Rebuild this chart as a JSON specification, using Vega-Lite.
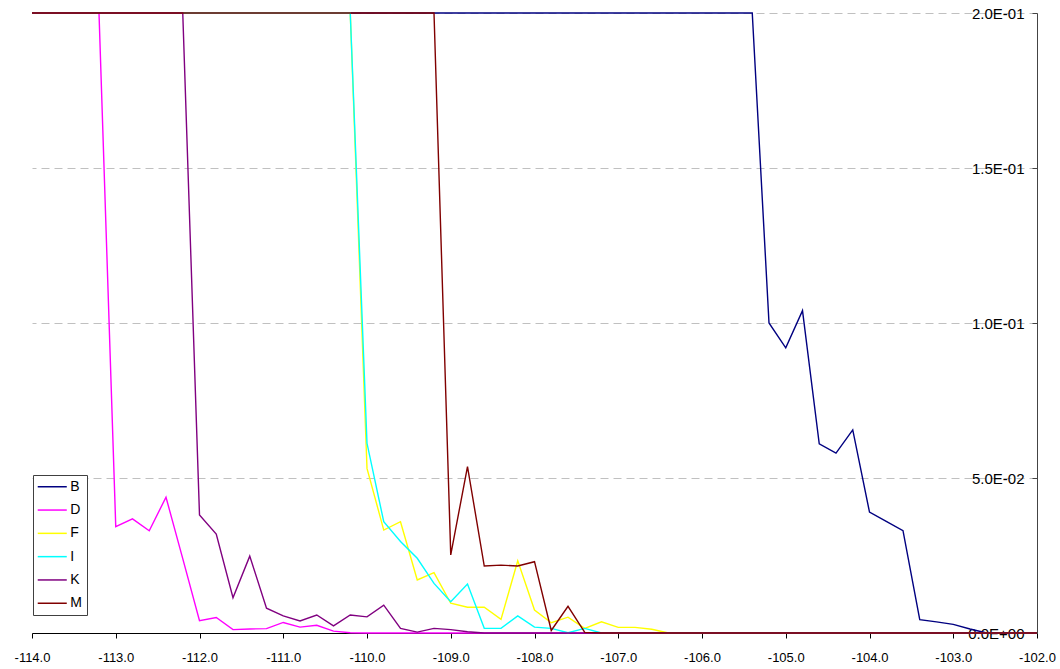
{
  "$schema": "https://vega.github.io/schema/vega-lite/v6.json",
  "width": 1005,
  "height": 620,
  "autosize": {"type": "none"},
  "padding": {"left": 32, "top": 13, "right": 23, "bottom": 36},
  "background": "white",
  "config": {"view": {"stroke": null}, "font": "Liberation Sans"},
  "data": {"values": [
    {"x": -114.0, "B": 0.2, "D": 0.2, "F": 0.2, "I": 0.2, "K": 0.2, "M": 0.2},
    {"x": -113.8, "B": 0.2, "D": 0.2, "F": 0.2, "I": 0.2, "K": 0.2, "M": 0.2},
    {"x": -113.6, "B": 0.2, "D": 0.2, "F": 0.2, "I": 0.2, "K": 0.2, "M": 0.2},
    {"x": -113.4, "B": 0.2, "D": 0.2, "F": 0.2, "I": 0.2, "K": 0.2, "M": 0.2},
    {"x": -113.2, "B": 0.2, "D": 0.2, "F": 0.2, "I": 0.2, "K": 0.2, "M": 0.2},
    {"x": -113.0, "B": 0.2, "D": 0.0343, "F": 0.2, "I": 0.2, "K": 0.2, "M": 0.2},
    {"x": -112.8, "B": 0.2, "D": 0.0368, "F": 0.2, "I": 0.2, "K": 0.2, "M": 0.2},
    {"x": -112.6, "B": 0.2, "D": 0.0330, "F": 0.2, "I": 0.2, "K": 0.2, "M": 0.2},
    {"x": -112.4, "B": 0.2, "D": 0.0438, "F": 0.2, "I": 0.2, "K": 0.2, "M": 0.2},
    {"x": -112.2, "B": 0.2, "D": 0.024, "F": 0.2, "I": 0.2, "K": 0.2, "M": 0.2},
    {"x": -112.0, "B": 0.2, "D": 0.0040, "F": 0.2, "I": 0.2, "K": 0.0381, "M": 0.2},
    {"x": -111.8, "B": 0.2, "D": 0.0050, "F": 0.2, "I": 0.2, "K": 0.0319, "M": 0.2},
    {"x": -111.6, "B": 0.2, "D": 0.0011, "F": 0.2, "I": 0.2, "K": 0.0114, "M": 0.2},
    {"x": -111.4, "B": 0.2, "D": 0.0013, "F": 0.2, "I": 0.2, "K": 0.0248, "M": 0.2},
    {"x": -111.2, "B": 0.2, "D": 0.0014, "F": 0.2, "I": 0.2, "K": 0.0080, "M": 0.2},
    {"x": -111.0, "B": 0.2, "D": 0.0034, "F": 0.2, "I": 0.2, "K": 0.0055, "M": 0.2},
    {"x": -110.8, "B": 0.2, "D": 0.0019, "F": 0.2, "I": 0.2, "K": 0.0039, "M": 0.2},
    {"x": -110.6, "B": 0.2, "D": 0.0025, "F": 0.2, "I": 0.2, "K": 0.0058, "M": 0.2},
    {"x": -110.4, "B": 0.2, "D": 0.0006, "F": 0.2, "I": 0.2, "K": 0.0023, "M": 0.2},
    {"x": -110.2, "B": 0.2, "D": 0.0001, "F": 0.2, "I": 0.2, "K": 0.0058, "M": 0.2},
    {"x": -110.0, "B": 0.2, "D": 0, "F": 0.0531, "I": 0.0612, "K": 0.0052, "M": 0.2},
    {"x": -109.8, "B": 0.2, "D": 0, "F": 0.0332, "I": 0.0359, "K": 0.0090, "M": 0.2},
    {"x": -109.6, "B": 0.2, "D": 0, "F": 0.0359, "I": 0.0295, "K": 0.0015, "M": 0.2},
    {"x": -109.4, "B": 0.2, "D": 0, "F": 0.0171, "I": 0.0241, "K": 0.0003, "M": 0.2},
    {"x": -109.2, "B": 0.2, "D": 0, "F": 0.0195, "I": 0.0160, "K": 0.0015, "M": 0.2},
    {"x": -109.0, "B": 0.2, "D": 0, "F": 0.0096, "I": 0.0101, "K": 0.0011, "M": 0.0252},
    {"x": -108.8, "B": 0.2, "D": 0, "F": 0.0083, "I": 0.0158, "K": 0.0004, "M": 0.0537},
    {"x": -108.6, "B": 0.2, "D": 0, "F": 0.0083, "I": 0.0015, "K": 0, "M": 0.0216},
    {"x": -108.4, "B": 0.2, "D": 0, "F": 0.0044, "I": 0.0015, "K": 0, "M": 0.0219},
    {"x": -108.2, "B": 0.2, "D": 0, "F": 0.0233, "I": 0.0055, "K": 0, "M": 0.0216},
    {"x": -108.0, "B": 0.2, "D": 0, "F": 0.0074, "I": 0.0019, "K": 0, "M": 0.0230},
    {"x": -107.8, "B": 0.2, "D": 0, "F": 0.0033, "I": 0.0015, "K": 0, "M": 0.0008},
    {"x": -107.6, "B": 0.2, "D": 0, "F": 0.0051, "I": 0.0001, "K": 0, "M": 0.0086},
    {"x": -107.4, "B": 0.2, "D": 0, "F": 0.0015, "I": 0.0015, "K": 0, "M": 0.0002},
    {"x": -107.2, "B": 0.2, "D": 0, "F": 0.0036, "I": 0, "K": 0, "M": 0},
    {"x": -107.0, "B": 0.2, "D": 0, "F": 0.0018, "I": 0, "K": 0, "M": 0},
    {"x": -106.8, "B": 0.2, "D": 0, "F": 0.0018, "I": 0, "K": 0, "M": 0},
    {"x": -106.6, "B": 0.2, "D": 0, "F": 0.0012, "I": 0, "K": 0, "M": 0},
    {"x": -106.4, "B": 0.2, "D": 0, "F": 0, "I": 0, "K": 0, "M": 0},
    {"x": -106.2, "B": 0.2, "D": 0, "F": 0, "I": 0, "K": 0, "M": 0},
    {"x": -106.0, "B": 0.2, "D": 0, "F": 0, "I": 0, "K": 0, "M": 0},
    {"x": -105.8, "B": 0.2, "D": 0, "F": 0, "I": 0, "K": 0, "M": 0},
    {"x": -105.6, "B": 0.2, "D": 0, "F": 0, "I": 0, "K": 0, "M": 0},
    {"x": -105.4, "B": 0.2, "D": 0, "F": 0, "I": 0, "K": 0, "M": 0},
    {"x": -105.2, "B": 0.100, "D": 0, "F": 0, "I": 0, "K": 0, "M": 0},
    {"x": -105.0, "B": 0.092, "D": 0, "F": 0, "I": 0, "K": 0, "M": 0},
    {"x": -104.8, "B": 0.104, "D": 0, "F": 0, "I": 0, "K": 0, "M": 0},
    {"x": -104.6, "B": 0.061, "D": 0, "F": 0, "I": 0, "K": 0, "M": 0},
    {"x": -104.4, "B": 0.058, "D": 0, "F": 0, "I": 0, "K": 0, "M": 0},
    {"x": -104.2, "B": 0.0655, "D": 0, "F": 0, "I": 0, "K": 0, "M": 0},
    {"x": -104.0, "B": 0.039, "D": 0, "F": 0, "I": 0, "K": 0, "M": 0},
    {"x": -103.8, "B": 0.036, "D": 0, "F": 0, "I": 0, "K": 0, "M": 0},
    {"x": -103.6, "B": 0.033, "D": 0, "F": 0, "I": 0, "K": 0, "M": 0},
    {"x": -103.4, "B": 0.0043, "D": 0, "F": 0, "I": 0, "K": 0, "M": 0},
    {"x": -103.2, "B": 0.0036, "D": 0, "F": 0, "I": 0, "K": 0, "M": 0},
    {"x": -103.0, "B": 0.0028, "D": 0, "F": 0, "I": 0, "K": 0, "M": 0},
    {"x": -102.8, "B": 0.0013, "D": 0, "F": 0, "I": 0, "K": 0, "M": 0},
    {"x": -102.6, "B": 0, "D": 0, "F": 0, "I": 0, "K": 0, "M": 0},
    {"x": -102.4, "B": 0, "D": 0, "F": 0, "I": 0, "K": 0, "M": 0},
    {"x": -102.2, "B": 0, "D": 0, "F": 0, "I": 0, "K": 0, "M": 0},
    {"x": -102.0, "B": 0, "D": 0, "F": 0, "I": 0, "K": 0, "M": 0}
  ]},
  "transform": [{"fold": ["B", "D", "F", "I", "K", "M"], "as": ["series", "value"]}],
  "mark": {"type": "line", "strokeWidth": 1.4},
  "encoding": {
    "x": {
      "field": "x", "type": "quantitative",
      "scale": {"domain": [-114, -102], "nice": false, "zero": false},
      "axis": {
        "title": null, "grid": false,
        "values": [-114, -113, -112, -111, -110, -109, -108, -107, -106, -105, -104, -103, -102],
        "labelExpr": "replace(format(datum.value, '.1f'), '\u2212', '-')",
        "labelFontSize": 13, "labelColor": "#000", "labelFlush": false, "labelOverlap": false,
        "tickSize": 5, "labelPadding": 13, "domainColor": "#000", "tickColor": "#000"
      }
    },
    "y": {
      "field": "value", "type": "quantitative",
      "scale": {"domain": [0, 0.2], "nice": false},
      "axis": {
        "orient": "right", "title": null,
        "values": [0, 0.05, 0.1, 0.15, 0.2],
        "labelExpr": "replace(replace(format(datum.value, '.1e'), 'e-', 'E-0'), 'e+', 'E+0')",
        "labelFontSize": 15, "labelColor": "#000", "labelAlign": "right", "labelBaseline": "middle",
        "labelFlush": false, "labelOverlap": false,
        "tickSize": -5, "labelPadding": -8, "domainColor": "#444", "tickColor": "#444",
        "grid": true, "gridDash": [8, 5], "gridColor": "#c0c0c0", "gridWidth": 1
      }
    },
    "color": {
      "field": "series", "type": "nominal",
      "scale": {"domain": ["B", "D", "F", "I", "K", "M"], "range": ["#000080", "#FF00FF", "#FFFF00", "#00FFFF", "#800080", "#800000"]},
      "legend": {
        "title": null, "orient": "none", "legendX": 1, "legendY": 462,
        "symbolType": "M-1.17,0H3.67", "symbolSize": 144, "symbolStrokeWidth": 1.5,
        "labelFontSize": 14, "labelColor": "#000", "labelOffset": 18.5,
        "rowPadding": 9.3, "padding": 4.75,
        "strokeColor": "#404040", "fillColor": "white"
      }
    }
  }
}
